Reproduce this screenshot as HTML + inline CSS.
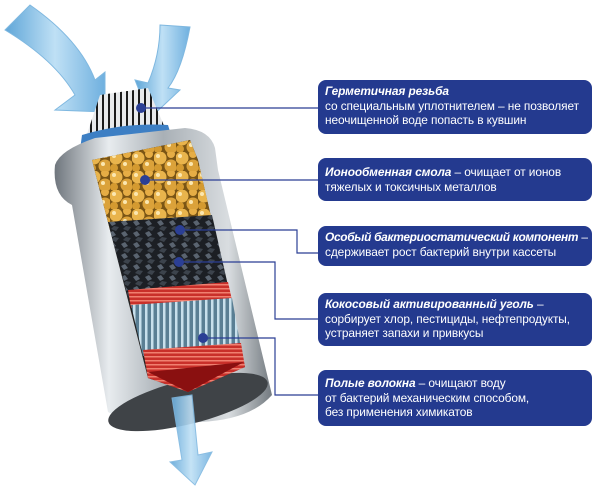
<!DOCTYPE html>
<html><head><meta charset="utf-8"><style>
html,body{margin:0;padding:0;background:#fff;}
body{width:600px;height:493px;position:relative;overflow:hidden;font-family:"Liberation Sans","DejaVu Sans",sans-serif;}
.box{position:absolute;left:318px;width:274px;background:#243a8f;border-radius:8px;color:#fff;font-size:11.9px;line-height:14.5px;padding:4px 7px;box-sizing:border-box;letter-spacing:-0.1px;}
.box b{font-style:italic;}
svg{position:absolute;left:0;top:0;}
</style></head><body>
<svg width="600" height="493" viewBox="0 0 600 493">
<defs>
<linearGradient id="metal" x1="0" x2="1" y1="0" y2="0">
<stop offset="0" stop-color="#6f767d"/><stop offset="0.25" stop-color="#e8ecef"/><stop offset="0.5" stop-color="#a9b0b6"/><stop offset="0.8" stop-color="#d9dde0"/><stop offset="1" stop-color="#737a80"/></linearGradient>
<linearGradient id="arr" x1="0" x2="1"><stop offset="0" stop-color="#5fa6d8"/><stop offset="0.5" stop-color="#bfe0f5"/><stop offset="1" stop-color="#6fb0df"/></linearGradient>
<pattern id="balls" width="22" height="19" patternUnits="userSpaceOnUse">
<rect width="22" height="19" fill="#7a5515"/><circle cx="6" cy="6" r="6.5" fill="#e9b44c"/><circle cx="17" cy="14" r="6.5" fill="#dba23a"/><circle cx="17" cy="2" r="4" fill="#e6ad45"/><circle cx="4" cy="16" r="4" fill="#d49a30"/><circle cx="4" cy="4" r="2" fill="#fbe7b0"/><circle cx="15" cy="12" r="2" fill="#fbe7b0"/></pattern>
<pattern id="coal" width="12" height="11" patternUnits="userSpaceOnUse">
<rect width="12" height="11" fill="#1c1f24"/><path d="M1 2 L5 0 L8 4 L4 6Z" fill="#5a6470"/><path d="M6 6 L11 7 L8 11 L3 9Z" fill="#3c434c"/></pattern>
<pattern id="fib" width="6" height="10" patternUnits="userSpaceOnUse">
<rect width="6" height="10" fill="#5a7f94"/><rect x="1" width="2.5" height="10" fill="#c8e0ec"/></pattern>
<pattern id="red" width="10" height="4" patternUnits="userSpaceOnUse">
<rect width="10" height="4" fill="#c9302a"/><rect width="10" height="1.5" fill="#f08070"/></pattern>
<pattern id="neck" width="6" height="10" patternUnits="userSpaceOnUse">
<rect width="6" height="10" fill="#e8eaec"/><rect width="2" height="10" fill="#1b1b1b"/></pattern>
</defs>
<path d="M5 30 L30 5 Q80 40 95 80 L105 72 L105 112 L55 110 L75 95 Q55 60 5 30Z" fill="url(#arr)" stroke="#7fb8e0"/>
<path d="M160 25 L190 27 Q182 70 168 88 L180 90 L150 118 L135 80 L148 83 Q160 55 160 25Z" fill="url(#arr)" stroke="#7fb8e0"/>
<path d="M100 95 L148 88 L165 128 L85 140Z" fill="url(#neck)"/>
<path d="M82 135 Q125 122 168 125 L172 138 Q125 132 80 150Z" fill="#3d7fc4"/>
<path d="M55 165 Q60 150 95 138 L185 128 Q210 130 215 148 L218 170 L272 395 Q250 420 200 422 Q130 425 108 412 L72 205 Q52 195 55 165Z" fill="url(#metal)"/>
<ellipse cx="188" cy="402" rx="82" ry="22" transform="rotate(-14 188 402)" fill="#3f4347"/>
<path d="M92 160 L190 140 L198 160 L245 367 L188 392 L148 378Z" fill="#222"/>
<path d="M92 160 L190 140 L198 160 L213 225 L110 230Z" fill="url(#balls)"/>
<path d="M108 222 L212 215 L229 290 L128 297Z" fill="url(#coal)"/>
<path d="M128 290 L228 282 L232 300 L131 308Z" fill="url(#red)"/>
<path d="M131 305 L232 298 L241 348 L143 356Z" fill="url(#fib)"/>
<path d="M143 350 L241 343 L245 367 L188 392 L148 378Z" fill="url(#red)"/>
<path d="M148 372 L244 362 L188 392Z" fill="#8a1010"/>
<path d="M172 398 L192 395 L198 455 L212 452 L195 485 L170 462 L182 460Z" fill="url(#arr)" stroke="#7fb8e0" opacity="0.9"/>
<g stroke="#2b3f95" stroke-width="1.2" fill="none">
<path d="M141 108 H320"/><path d="M145 180 H320"/>
<path d="M180 230 H297 V253 H320"/><path d="M179 262 H275 V319 H320"/><path d="M203 338 H275 V395 H320"/>
</g>
<g fill="#2b3f95"><circle cx="141" cy="108" r="5"/><circle cx="145" cy="180" r="5"/><circle cx="180" cy="230" r="5"/><circle cx="179" cy="262" r="5"/><circle cx="203" cy="338" r="5"/></g>
</svg>
<div class="box" style="top:80px;height:54px;"><b>Герметичная резьба</b><br>со специальным уплотнителем – не позволяет неочищенной воде попасть в кувшин</div>
<div class="box" style="top:158px;height:43px;padding-top:7px;"><b>Ионообменная смола</b> – очищает от ионов<br>тяжелых и токсичных металлов</div>
<div class="box" style="top:226px;height:40px;padding-right:2px;"><b style="letter-spacing:-0.3px">Особый бактериостатический компонент</b> –<br>сдерживает рост бактерий внутри кассеты</div>
<div class="box" style="top:293px;height:53px;"><b>Кокосовый активированный уголь</b> –<br>сорбирует хлор, пестициды, нефтепродукты,<br>устраняет запахи и привкусы</div>
<div class="box" style="top:370px;height:56px;padding-top:6px;"><b>Полые волокна</b> – очищают воду<br>от бактерий механическим способом,<br>без применения химикатов</div>
</body></html>
